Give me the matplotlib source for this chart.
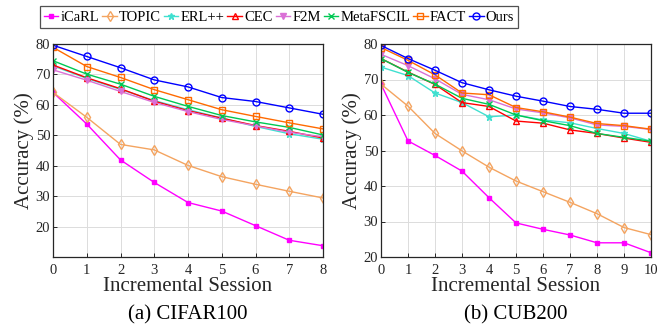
import matplotlib.pyplot as plt
import numpy as np

plt.rcParams['font.family'] = ['Liberation Serif', 'DejaVu Serif']
plt.rcParams['mathtext.fontset'] = 'stix'

methods = ['iCaRL', 'TOPIC', 'ERL++', 'CEC', 'F2M', 'MetaFSCIL', 'FACT', 'Ours']
colors = ['#ff00ff', '#f4a460', '#40e0d0', '#ff0000', '#da70d6', '#00c853', '#ff6a00', '#0000ff']
markers = ['s', 'd', '*', '^', 'v', 'x', 's', 'o']
msizes = [3, 5, 5, 5, 5, 4, 4, 5]
filled = [True, False, True, False, True, True, False, False]

# CIFAR100 (sessions 0..8)
cifar = {
    'iCaRL':     [64.1, 53.7, 41.9, 34.5, 27.9, 25.1, 20.3, 15.5, 13.7],
    'TOPIC':     [64.1, 55.9, 47.0, 45.2, 40.1, 36.4, 33.9, 31.6, 29.4],
    'ERL++':     [72.8, 68.7, 65.1, 61.4, 58.4, 55.7, 52.9, 50.5, 48.7],
    'CEC':       [73.1, 68.9, 65.3, 61.2, 58.1, 55.6, 53.2, 51.3, 49.1],
    'F2M':       [71.5, 68.1, 64.4, 60.8, 57.8, 55.2, 53.1, 51.0, 49.5],
    'MetaFSCIL': [74.5, 70.1, 66.8, 62.8, 59.5, 56.5, 54.4, 52.6, 50.1],
    'FACT':      [78.9, 72.6, 69.0, 65.0, 61.7, 58.4, 56.2, 54.1, 52.1],
    'Ours':      [79.6, 75.9, 72.2, 68.2, 65.9, 62.4, 61.1, 59.0, 56.9],
}

# CUB200 (sessions 0..10)
cub = {
    'iCaRL':     [68.7, 52.7, 48.6, 44.2, 36.7, 29.6, 27.8, 26.2, 24.0, 24.0, 21.2],
    'TOPIC':     [68.7, 62.5, 54.8, 49.9, 45.3, 41.4, 38.4, 35.4, 32.2, 28.3, 26.3],
    'ERL++':     [73.5, 71.1, 66.2, 63.5, 59.5, 60.0, 58.6, 57.8, 56.2, 54.8, 52.6],
    'CEC':       [75.9, 72.1, 68.6, 63.5, 62.4, 58.3, 57.7, 55.8, 54.8, 53.5, 52.3],
    'F2M':       [77.1, 73.9, 70.2, 65.8, 64.3, 61.7, 60.6, 59.2, 57.2, 56.8, 55.9],
    'MetaFSCIL': [75.9, 72.0, 68.7, 64.7, 63.0, 60.0, 58.4, 57.0, 54.8, 53.7, 52.6],
    'FACT':      [79.0, 75.4, 71.3, 66.2, 65.7, 62.1, 60.9, 59.4, 57.6, 57.0, 56.0],
    'Ours':      [79.6, 75.9, 72.6, 69.1, 67.1, 65.3, 63.9, 62.4, 61.6, 60.5, 60.5],
}

fig = plt.figure(figsize=(6.59, 3.33), dpi=100)
W, H = 659, 333
ax1 = fig.add_axes([53 / W, 1 - 257 / H, 270 / W, 213 / H])
ax2 = fig.add_axes([381 / W, 1 - 257 / H, 270 / W, 213 / H])

tick_col = '#262626'
for ax, data, ylim, yticks, nsess, sub in [
        (ax1, cifar, (10, 80), [20, 30, 40, 50, 60, 70, 80], 9, '(a) CIFAR100'),
        (ax2, cub, (20, 80), [20, 30, 40, 50, 60, 70, 80], 11, '(b) CUB200')]:
    x = np.arange(nsess)
    for m, c, mk, ms, fl in zip(methods, colors, markers, msizes, filled):
        ax.plot(x, data[m], color=c, marker=mk, markersize=ms, linewidth=1.0,
                markerfacecolor=c if fl else 'none', markeredgecolor=c,
                markeredgewidth=1.0, label=m)
    ax.set_xlim(0, nsess - 1)
    ax.set_ylim(*ylim)
    ax.set_xticks(x)
    ax.set_yticks(yticks)
    ax.grid(True, color='#dcdcdc', linewidth=0.7)
    ax.set_axisbelow(True)
    ax.tick_params(direction='in', length=3, width=0.7, labelsize=10.5,
                   colors=tick_col, top=False, right=False, pad=2)
    ax.tick_params(axis='x', pad=5)
    for s in ax.spines.values():
        s.set_color(tick_col)
        s.set_linewidth(0.9)
    ax.set_xlabel('Incremental Session', fontsize=15, color=tick_col, labelpad=0)
    ax.set_ylabel('Accuracy (%)', fontsize=15, color=tick_col, labelpad=1)
    ax.text(0.5, -0.228, sub, transform=ax.transAxes, ha='center', va='top',
            fontsize=15, color='black')

handles, labels = ax1.get_legend_handles_labels()
leg = fig.legend(handles, labels, loc='center', ncol=8,
                 bbox_to_anchor=(279 / W, 1 - 17 / H), fontsize=10.5,
                 frameon=True, fancybox=False, handlelength=1.0,
                 handletextpad=0.15, columnspacing=0.2, borderpad=0.3,
                 borderaxespad=0)
leg.get_frame().set_edgecolor(tick_col)
leg.get_frame().set_linewidth(0.9)

fig.savefig('out.png', dpi=100)
